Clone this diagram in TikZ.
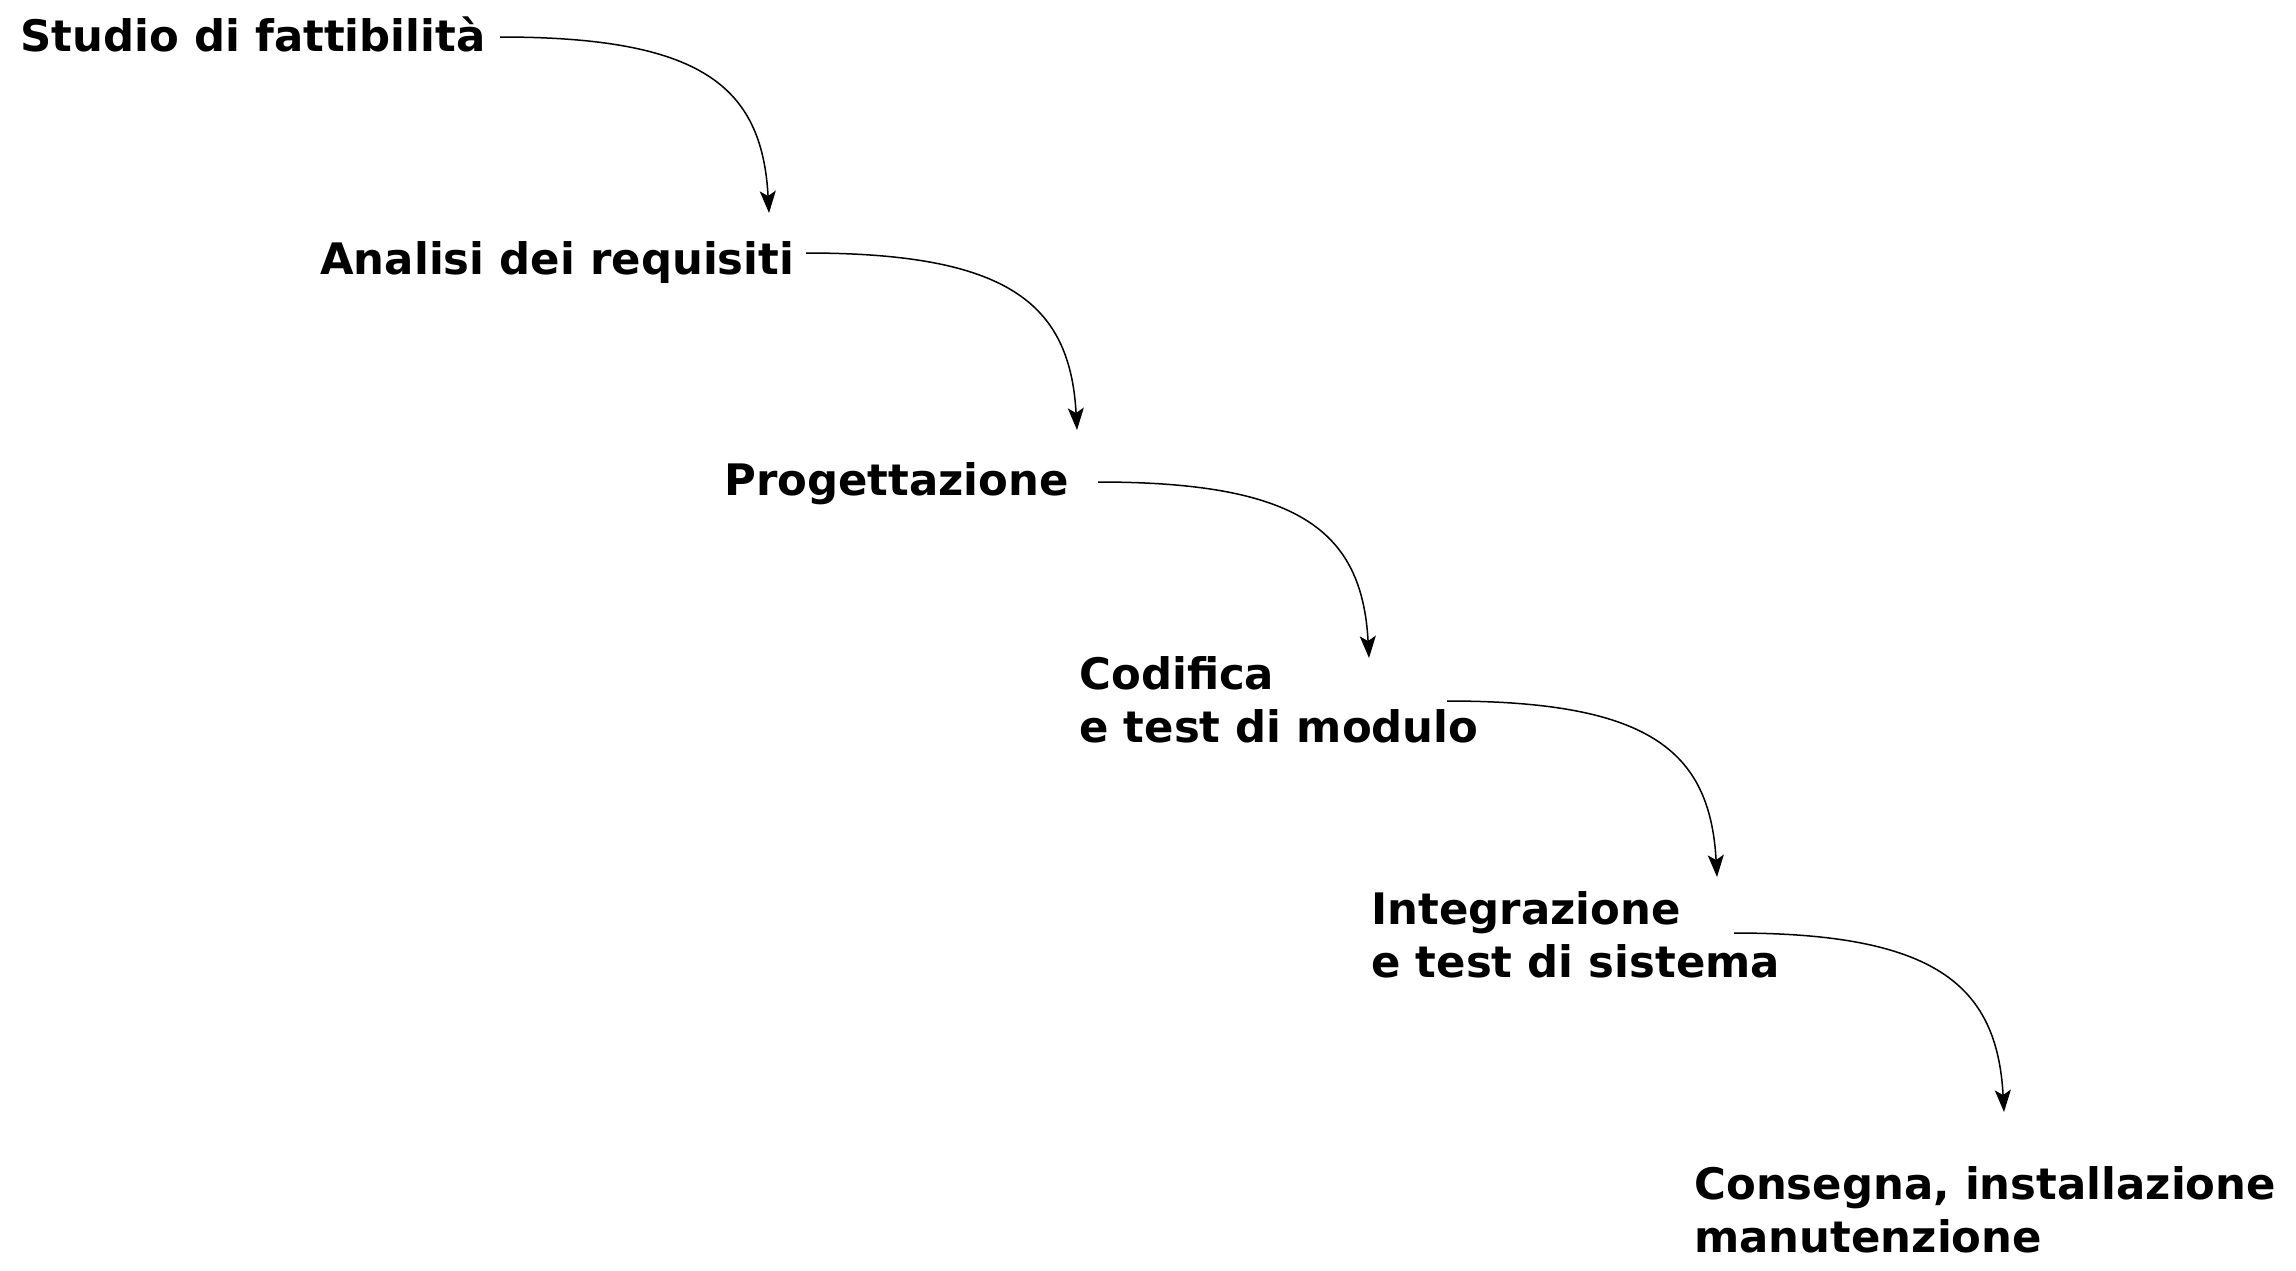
\documentclass[tikz,border=0pt]{standalone}
\usepackage{fontspec}
\setmainfont{DejaVu Sans}
\usetikzlibrary{arrows.meta}
\begin{document}
\begin{tikzpicture}[x=0.5pt,y=-0.5pt,
  phase/.style={inner sep=0pt,anchor=base west,align=left,font=\fontsize{21.7pt}{26.5pt}\selectfont\bfseries},
  flow/.style={line width=0.75pt,-{Stealth[length=11pt,width=8pt,inset=2.5pt]}}]
\useasboundingbox (0,0) rectangle (2296,1270);
\node[phase] (a) at (20,51) {Studio di fattibilità};
\node[phase] (b) at (320,274) {Analisi dei requisiti};
\node[phase] (c) at (724,495) {Progettazione};
\node[phase] (d) at (1079,742) {Codifica\\e test di modulo};
\node[phase] (e) at (1371,977) {Integrazione\\e test di sistema};
\node[phase] (f) at (1694,1252) {Consegna, installazione\\manutenzione};
\coordinate (s1) at (500,37);   \coordinate (t1) at (769,213);
\coordinate (s2) at (806,253);  \coordinate (t2) at (1077,430);
\coordinate (s3) at (1098,482); \coordinate (t3) at (1369,658);
\coordinate (s4) at (1447,701); \coordinate (t4) at (1717,877);
\coordinate (s5) at (1734,933); \coordinate (t5) at (2004,1112);
\foreach \i in {1,...,5}{
  \draw[flow] (s\i) .. controls +(200,0) and +(-7,-128) .. (t\i);
}
\end{tikzpicture}
\end{document}
